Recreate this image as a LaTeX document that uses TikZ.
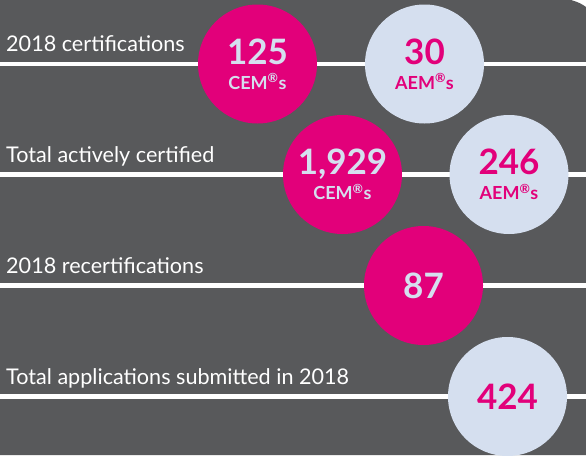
\documentclass[tikz,border=0pt]{standalone}
\usepackage{fontspec}
\setmainfont{Lato}
\definecolor{slate}{HTML}{58595B}
\definecolor{cempink}{HTML}{E2007A}
\definecolor{aempale}{HTML}{D5DFEF}
\begin{document}
\begin{tikzpicture}[x=1pt,y=-1pt, line join=round,
	rule/.style={white, line width=4.5pt},
	cem/.style={circle, fill=cempink, text=aempale, minimum size=119pt, inner sep=0pt, align=center, font=\fontsize{18}{25}\selectfont\bfseries},
	aem/.style={cem, fill=aempale, text=cempink},
	lbl/.style={anchor=base west, inner sep=0pt, text=white, font=\fontsize{21.6}{24}\selectfont}]
	\def\num#1{{\fontsize{35}{25}\selectfont #1}}
	\def\unit#1{#1\textsuperscript{®}s}
	\useasboundingbox (0,0) rectangle (586,455);
	\fill[white] (0,0) rectangle (586,455);
	\fill[slate] (0,0)--(571,0) .. controls (578,2) and (582,4) .. (586,7)--(586,455)--(0,455)--cycle;
	% rules
	\foreach \y [count=\i] in {64,174.5,285.5,396.5} {
		\coordinate (r\i a) at (0,\y);
		\coordinate (r\i b) at (586,\y);
		\draw[rule] (r\i a)--(r\i b);
	}
	\node[lbl] (t1) at (6,51.5) {2018 certifications};
	\node[lbl] (t2) at (6,162.5) {Total actively certified};
	\node[lbl] (t3) at (6,273.5) {2018 recertifications};
	\node[lbl] (t4) at (6,384.5) {Total applications submitted in 2018};
	% circles
	\node[cem] (c1) at (257.5,64) {\num{125}\\\unit{CEM}};
	\node[aem] (c2) at (424.5,64) {\num{30}\\\unit{AEM}};
	\node[cem] (c3) at (342.5,174.5) {\num{1,929}\\\unit{CEM}};
	\node[aem] (c4) at (509,174.5) {\num{246}\\\unit{AEM}};
	\node[cem] (c5) at (423.5,285.5) {\num{87}};
	\node[aem] (c6) at (507.5,396.5) {\num{424}};
\end{tikzpicture}
\end{document}
